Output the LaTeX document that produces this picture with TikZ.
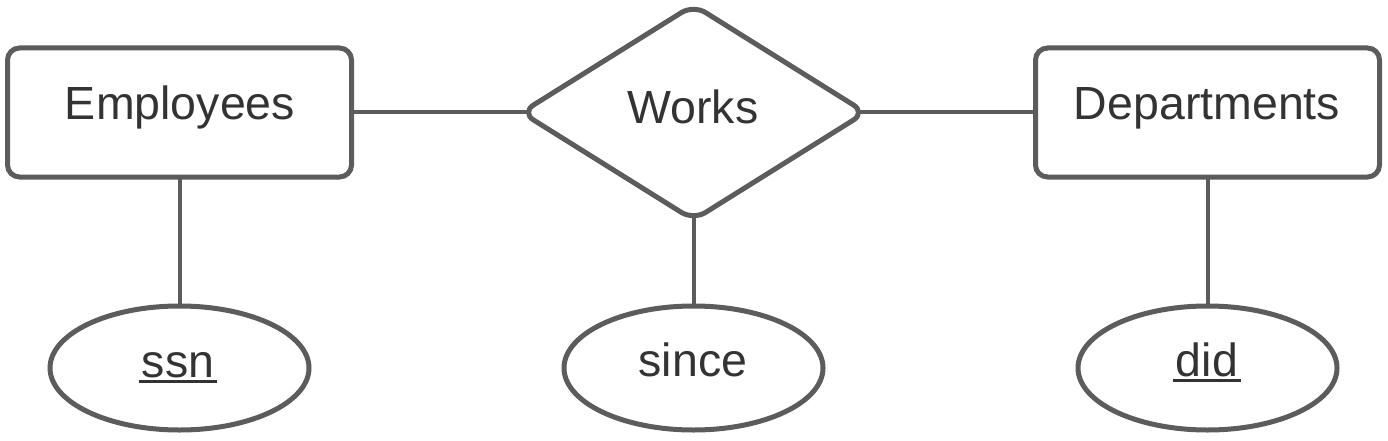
\documentclass[tikz,border=0pt]{standalone}
\usepackage{fontspec}
\setmainfont{Liberation Sans}
\usetikzlibrary{shapes.geometric,backgrounds}
\definecolor{strokegray}{HTML}{5C5C5C}
\definecolor{textgray}{HTML}{333333}
\newcommand\ulword[1]{\setbox0\hbox{#1}\rlap{\hspace{-3pt}\rule[-5.5pt]{\dimexpr\wd0+6pt\relax}{3pt}}\box0}
\tikzset{
  shapeborder/.style={draw=strokegray, line width=5pt, fill=white, inner sep=0pt},
  entitybox/.style={shapeborder, rectangle, rounded corners=12pt, minimum width=344pt, minimum height=129pt},
  relbox/.style={shapeborder, diamond, rounded corners=14pt, minimum width=346pt, minimum height=217pt},
  attrbox/.style={shapeborder, ellipse, minimum width=259pt, minimum height=124pt},
  label/.style={anchor=base, inner sep=0pt, text=textgray, font=\fontsize{46.5}{55}\selectfont},
  conn/.style={draw=strokegray, line width=4pt}
}
\begin{document}
\begin{tikzpicture}[x=1pt, y=-1pt]
\useasboundingbox (0,0) rectangle (1388,441);
\node[entitybox] (emp) at (179.5,112.5) {};
\node[relbox] (works) at (693.5,112.5) {};
\node[entitybox] (dep) at (1207.5,112.5) {};
\node[attrbox] (ssn) at (179.5,368) {};
\node[attrbox] (since) at (693.5,368) {};
\node[attrbox] (did) at (1207.5,368) {};
\begin{pgfonlayer}{background}
\draw[conn] (emp.center) -- (works.center);
\draw[conn] (works.center) -- (dep.center);
\draw[conn] (emp.center) -- (ssn.center);
\draw[conn] (works.center) -- (since.center);
\draw[conn] (dep.center) -- (did.center);
\end{pgfonlayer}
\node[label] (empt) at (180,120) {Employees};
\node[label] (workst) at (693,124) {Works};
\node[label] (dept) at (1207,120) {Departments};
\node[label] (ssnt) at (178,377) {\ulword{ssn}};
\node[label] (sincet) at (693,376) {since};
\node[label] (didt) at (1207,376) {\ulword{did}};
\end{tikzpicture}
\end{document}
